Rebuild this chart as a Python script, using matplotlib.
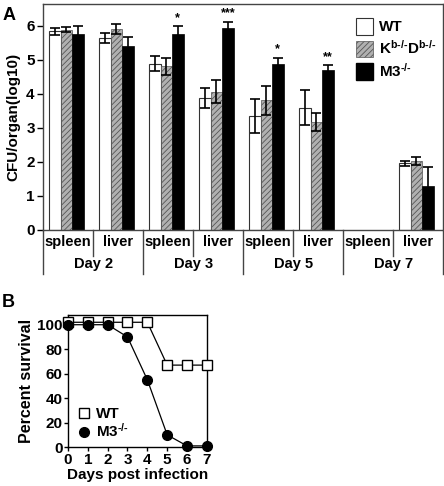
import matplotlib
matplotlib.use('Agg')
import matplotlib.pyplot as plt
import numpy as np
from matplotlib.patches import Patch
from matplotlib.lines import Line2D

plt.rcParams['font.family'] = ['Liberation Sans', 'DejaVu Sans']
plt.rcParams['font.weight'] = 'bold'
plt.rcParams['axes.labelweight'] = 'bold'
plt.rcParams['mathtext.fontset'] = 'custom'
plt.rcParams['mathtext.rm'] = 'Liberation Sans:bold'
plt.rcParams['mathtext.it'] = 'Liberation Sans:bold'
plt.rcParams['mathtext.bf'] = 'Liberation Sans:bold'
plt.rcParams['hatch.linewidth'] = 0.6
plt.rcParams['hatch.color'] = '#6a6a6a'

# panel A data
organs = ['spleen', 'liver', 'spleen', 'liver', 'spleen', 'liver', 'spleen', 'liver']
days = ['Day 2', 'Day 3', 'Day 5', 'Day 7']
wt = [5.84, 5.64, 4.89, 3.88, 3.35, 3.6, 0, 1.96]
wt_err = [0.11, 0.15, 0.22, 0.3, 0.5, 0.52, 0, 0.08]
kb = [5.89, 5.9, 4.81, 4.07, 3.81, 3.17, 0, 2.03]
kb_err = [0.07, 0.15, 0.24, 0.33, 0.43, 0.26, 0, 0.11]
m3 = [5.77, 5.4, 5.75, 5.95, 4.87, 4.71, 0, 1.3]
m3_err = [0.23, 0.28, 0.25, 0.18, 0.2, 0.15, 0, 0.56]
stars = {2: '*', 3: '***', 4: '*', 5: '**'}

# panel B data
day_pts = [0, 1, 2, 3, 4, 5, 6, 7]
surv_wt = [102, 102, 102, 102, 102, 67, 67, 67]
surv_m3 = [100, 100, 100, 90, 55, 10, 1, 1]

fig = plt.figure(figsize=(4.44, 4.86), dpi=100)

axA = fig.add_axes([0.097, 0.527, 0.901, 0.465])
x = np.arange(len(organs))
w = 0.23
ekw = dict(ecolor='black', capsize=3.5, elinewidth=1.2, capthick=1.2)
for i in range(len(organs)):
    if wt[i] == 0:
        continue
    axA.bar(x[i] - 0.265, wt[i], w, yerr=wt_err[i], color='white', edgecolor='#333333', linewidth=0.8, error_kw=ekw)
    axA.bar(x[i] - 0.035, kb[i], w, yerr=kb_err[i], color='#b0b0b0', edgecolor='#555555', linewidth=0.5, hatch='//////', error_kw=ekw)
    axA.bar(x[i] + 0.195, m3[i], w, yerr=m3_err[i], color='black', edgecolor='black', linewidth=0.5, error_kw=ekw)
for i, s in stars.items():
    axA.text(x[i] + 0.195, m3[i] + m3_err[i] + 0.06, s, ha='center', va='bottom', fontsize=9)

axA.set_xlim(-0.5, 7.5)
axA.set_ylim(0, 6.65)
axA.set_yticks(range(7))
axA.set_xticks([])
axA.tick_params(axis='y', labelsize=11, length=4, width=1, pad=2)
for sp in axA.spines.values():
    sp.set_linewidth(1)
    sp.set_color('#444444')
axA.set_ylabel('CFU/organ(log10)', fontsize=11, labelpad=4)

trans = axA.get_xaxis_transform()
for i in range(len(organs) + 1):
    bottom = -0.195 if i % 2 == 0 else -0.115
    axA.plot([i - 0.5, i - 0.5], [0, bottom], transform=trans, color='#444444', lw=1, clip_on=False)
for i, o in enumerate(organs):
    axA.text(x[i], -0.055, o, transform=trans, ha='center', va='center', fontsize=10.5)
for j, d in enumerate(days):
    axA.text(2 * j + 0.5, -0.15, d, transform=trans, ha='center', va='center', fontsize=10.5)

handles = [Patch(facecolor='white', edgecolor='#333333', lw=0.8),
           Patch(facecolor='#b0b0b0', edgecolor='#555555', hatch='//////', lw=0.5),
           Patch(facecolor='black', edgecolor='black')]
axA.legend(handles, ['WT', 'K$^{\\text{b-/-}}$D$^{\\text{b-/-}}$', 'M3$^{\\text{-/-}}$'],
           loc='upper left', frameon=False, fontsize=11, handlelength=1.1, handleheight=1.3,
           handletextpad=0.4, labelspacing=0.3, bbox_to_anchor=(0.755, 0.985), borderaxespad=0.3)

fig.text(0.005, 0.985, 'A', fontsize=13, fontweight='bold', va='top')
fig.text(0.005, 0.395, 'B', fontsize=13, fontweight='bold', va='top')

axB = fig.add_axes([0.153, 0.080, 0.313, 0.272])
axB.plot(day_pts, surv_wt, color='black', lw=0.9, marker='s', ms=7, mfc='white', mec='black', mew=1, clip_on=False, zorder=3)
axB.plot(day_pts, surv_m3, color='black', lw=0.9, marker='o', ms=7, mfc='black', mec='black', clip_on=False, zorder=3)
axB.set_xlim(0, 7)
axB.set_ylim(0, 108)
axB.set_xticks(day_pts)
axB.set_yticks([0, 20, 40, 60, 80, 100])
axB.tick_params(labelsize=11, length=3, width=1, pad=1)
for sp in axB.spines.values():
    sp.set_linewidth(1)
axB.set_xlabel('Days post infection', fontsize=11, labelpad=1)
axB.set_ylabel('Percent survival', fontsize=11.5, labelpad=2)
lh = [Line2D([], [], ls='none', marker='s', ms=7, mfc='white', mec='black'),
      Line2D([], [], ls='none', marker='o', ms=7, mfc='black', mec='black')]
axB.legend(lh, ['WT', 'M3$^{\\text{-/-}}$'], loc='lower left', frameon=False, fontsize=11,
           handlelength=0.8, handletextpad=0.4, labelspacing=0.05, bbox_to_anchor=(-0.03, -0.05))

fig.savefig('out.png', dpi=100)
